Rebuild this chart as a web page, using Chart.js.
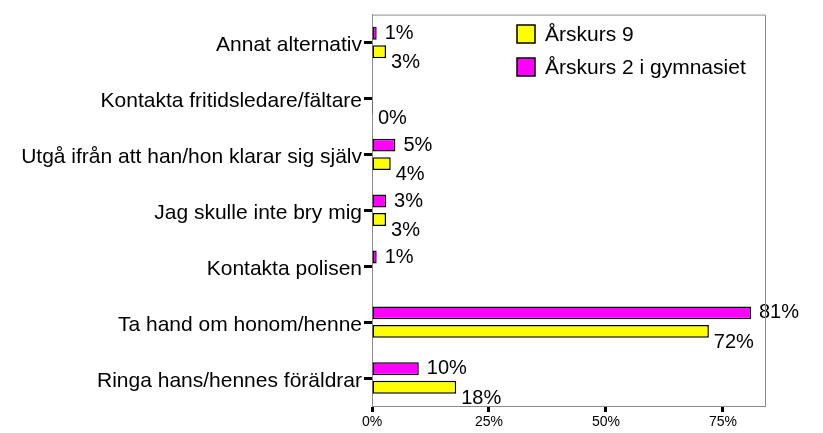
<!DOCTYPE html>
<html>
<head>
<meta charset="utf-8">
<script src="https://cdn.jsdelivr.net/npm/chart.js@4.4.1/dist/chart.umd.min.js"></script>
<style>
  body { margin: 0; background: #fff; }
  canvas { display: block; }
</style>
</head>
<body>
<canvas id="myChart" width="823" height="433"></canvas>
<script>
// data
const categories = [
  'Annat alternativ',
  'Kontakta fritidsledare/fältare',
  'Utgå ifrån att han/hon klarar sig själv',
  'Jag skulle inte bry mig',
  'Kontakta polisen',
  'Ta hand om honom/henne',
  'Ringa hans/hennes föräldrar'
];
const arskurs9 = [3, 0, 4, 3, null, 72, 18];
const gymnasiet2 = [1, null, 5, 3, 1, 81, 10];
const xTicks = [0, 25, 50, 75];

const FONT = "'Liberation Sans', Arial, sans-serif";

// value labels next to each bar end
const valueLabels = {
  id: 'valueLabels',
  afterDatasetsDraw(chart) {
    const ctx = chart.ctx;
    ctx.save();
    ctx.font = '20px ' + FONT;
    ctx.fillStyle = '#000';
    ctx.textAlign = 'left';
    ctx.textBaseline = 'middle';
    chart.data.datasets.forEach((ds, i) => {
      const meta = chart.getDatasetMeta(i);
      meta.data.forEach((bar, j) => {
        const v = ds.data[j];
        if (v === null || v === undefined) return;
        ctx.fillText(v + '%', bar.x + ds.labelDx, bar.y + ds.labelDy);
      });
    });
    ctx.restore();
  }
};

// grey frame + legend inside the plot area
const frameAndLegend = {
  id: 'frameAndLegend',
  afterDraw(chart) {
    const ctx = chart.ctx;
    const a = chart.chartArea;
    ctx.save();
    ctx.strokeStyle = '#8c8c8c';
    ctx.lineWidth = 1;
    ctx.beginPath();
    ctx.moveTo(a.left, a.top + 0.5);
    ctx.lineTo(a.right + 0.5, a.top + 0.5);
    ctx.lineTo(a.right + 0.5, a.bottom);
    ctx.stroke();

    // legend: yellow first, then magenta
    const order = [1, 0];
    ctx.font = '21px ' + FONT;
    ctx.textBaseline = 'middle';
    ctx.textAlign = 'left';
    order.forEach((di, k) => {
      const ds = chart.data.datasets[di];
      const y = 25 + k * 33;
      ctx.fillStyle = ds.backgroundColor;
      ctx.fillRect(517, y, 18, 18);
      ctx.strokeStyle = '#000';
      ctx.lineWidth = 1.5;
      ctx.strokeRect(517, y, 18, 18);
      ctx.fillStyle = '#000';
      ctx.fillText(ds.label, 545, y + 10);
    });
    ctx.restore();
  }
};

const ctx = document.getElementById('myChart');
new Chart(ctx, {
  type: 'bar',
  data: {
    labels: categories,
    datasets: [
      {
        label: 'Årskurs 2 i gymnasiet',
        data: gymnasiet2,
        backgroundColor: '#ff00ff',
        borderColor: '#000',
        borderWidth: 1.5,
        borderSkipped: false,
        minBarLength: 1,
        labelDx: 8,
        labelDy: 0
      },
      {
        label: 'Årskurs 9',
        data: arskurs9,
        backgroundColor: '#ffff00',
        borderColor: '#000',
        borderWidth: 1.5,
        borderSkipped: false,
        minBarLength: 1,
        labelDx: 5,
        labelDy: 11
      }
    ]
  },
  options: {
    indexAxis: 'y',
    responsive: false,
    animation: false,
    categoryPercentage: 0.66,
    barPercentage: 0.7,
    layout: { padding: { top: 14, right: 58, left: 0, bottom: 0 } },
    plugins: {
      legend: { display: false },
      tooltip: { enabled: false }
    },
    scales: {
      x: {
        type: 'linear',
        min: 0,
        max: 84,
        afterBuildTicks: (axis) => { axis.ticks = xTicks.map(v => ({ value: v })); },
        afterFit: (scale) => { scale.height = 27; },
        ticks: {
          color: '#000',
          font: { family: FONT, size: 14 },
          padding: 2,
          callback: (v) => v + '%'
        },
        grid: {
          drawOnChartArea: false,
          drawTicks: true,
          tickLength: 6,
          tickWidth: 3,
          tickColor: '#000'
        },
        border: { display: true, color: '#8c8c8c', width: 1 }
      },
      y: {
        afterFit: (scale) => { scale.width = 372; },
        ticks: {
          color: '#000',
          font: { family: FONT, size: 21 },
          padding: 2,
          labelOffset: 3,
          autoSkip: false
        },
        grid: {
          offset: false,
          drawOnChartArea: false,
          drawTicks: true,
          tickLength: 8,
          tickWidth: 3,
          tickColor: '#000'
        },
        border: { display: true, color: '#8c8c8c', width: 1 }
      }
    }
  },
  plugins: [valueLabels, frameAndLegend]
});
</script>
</body>
</html>
